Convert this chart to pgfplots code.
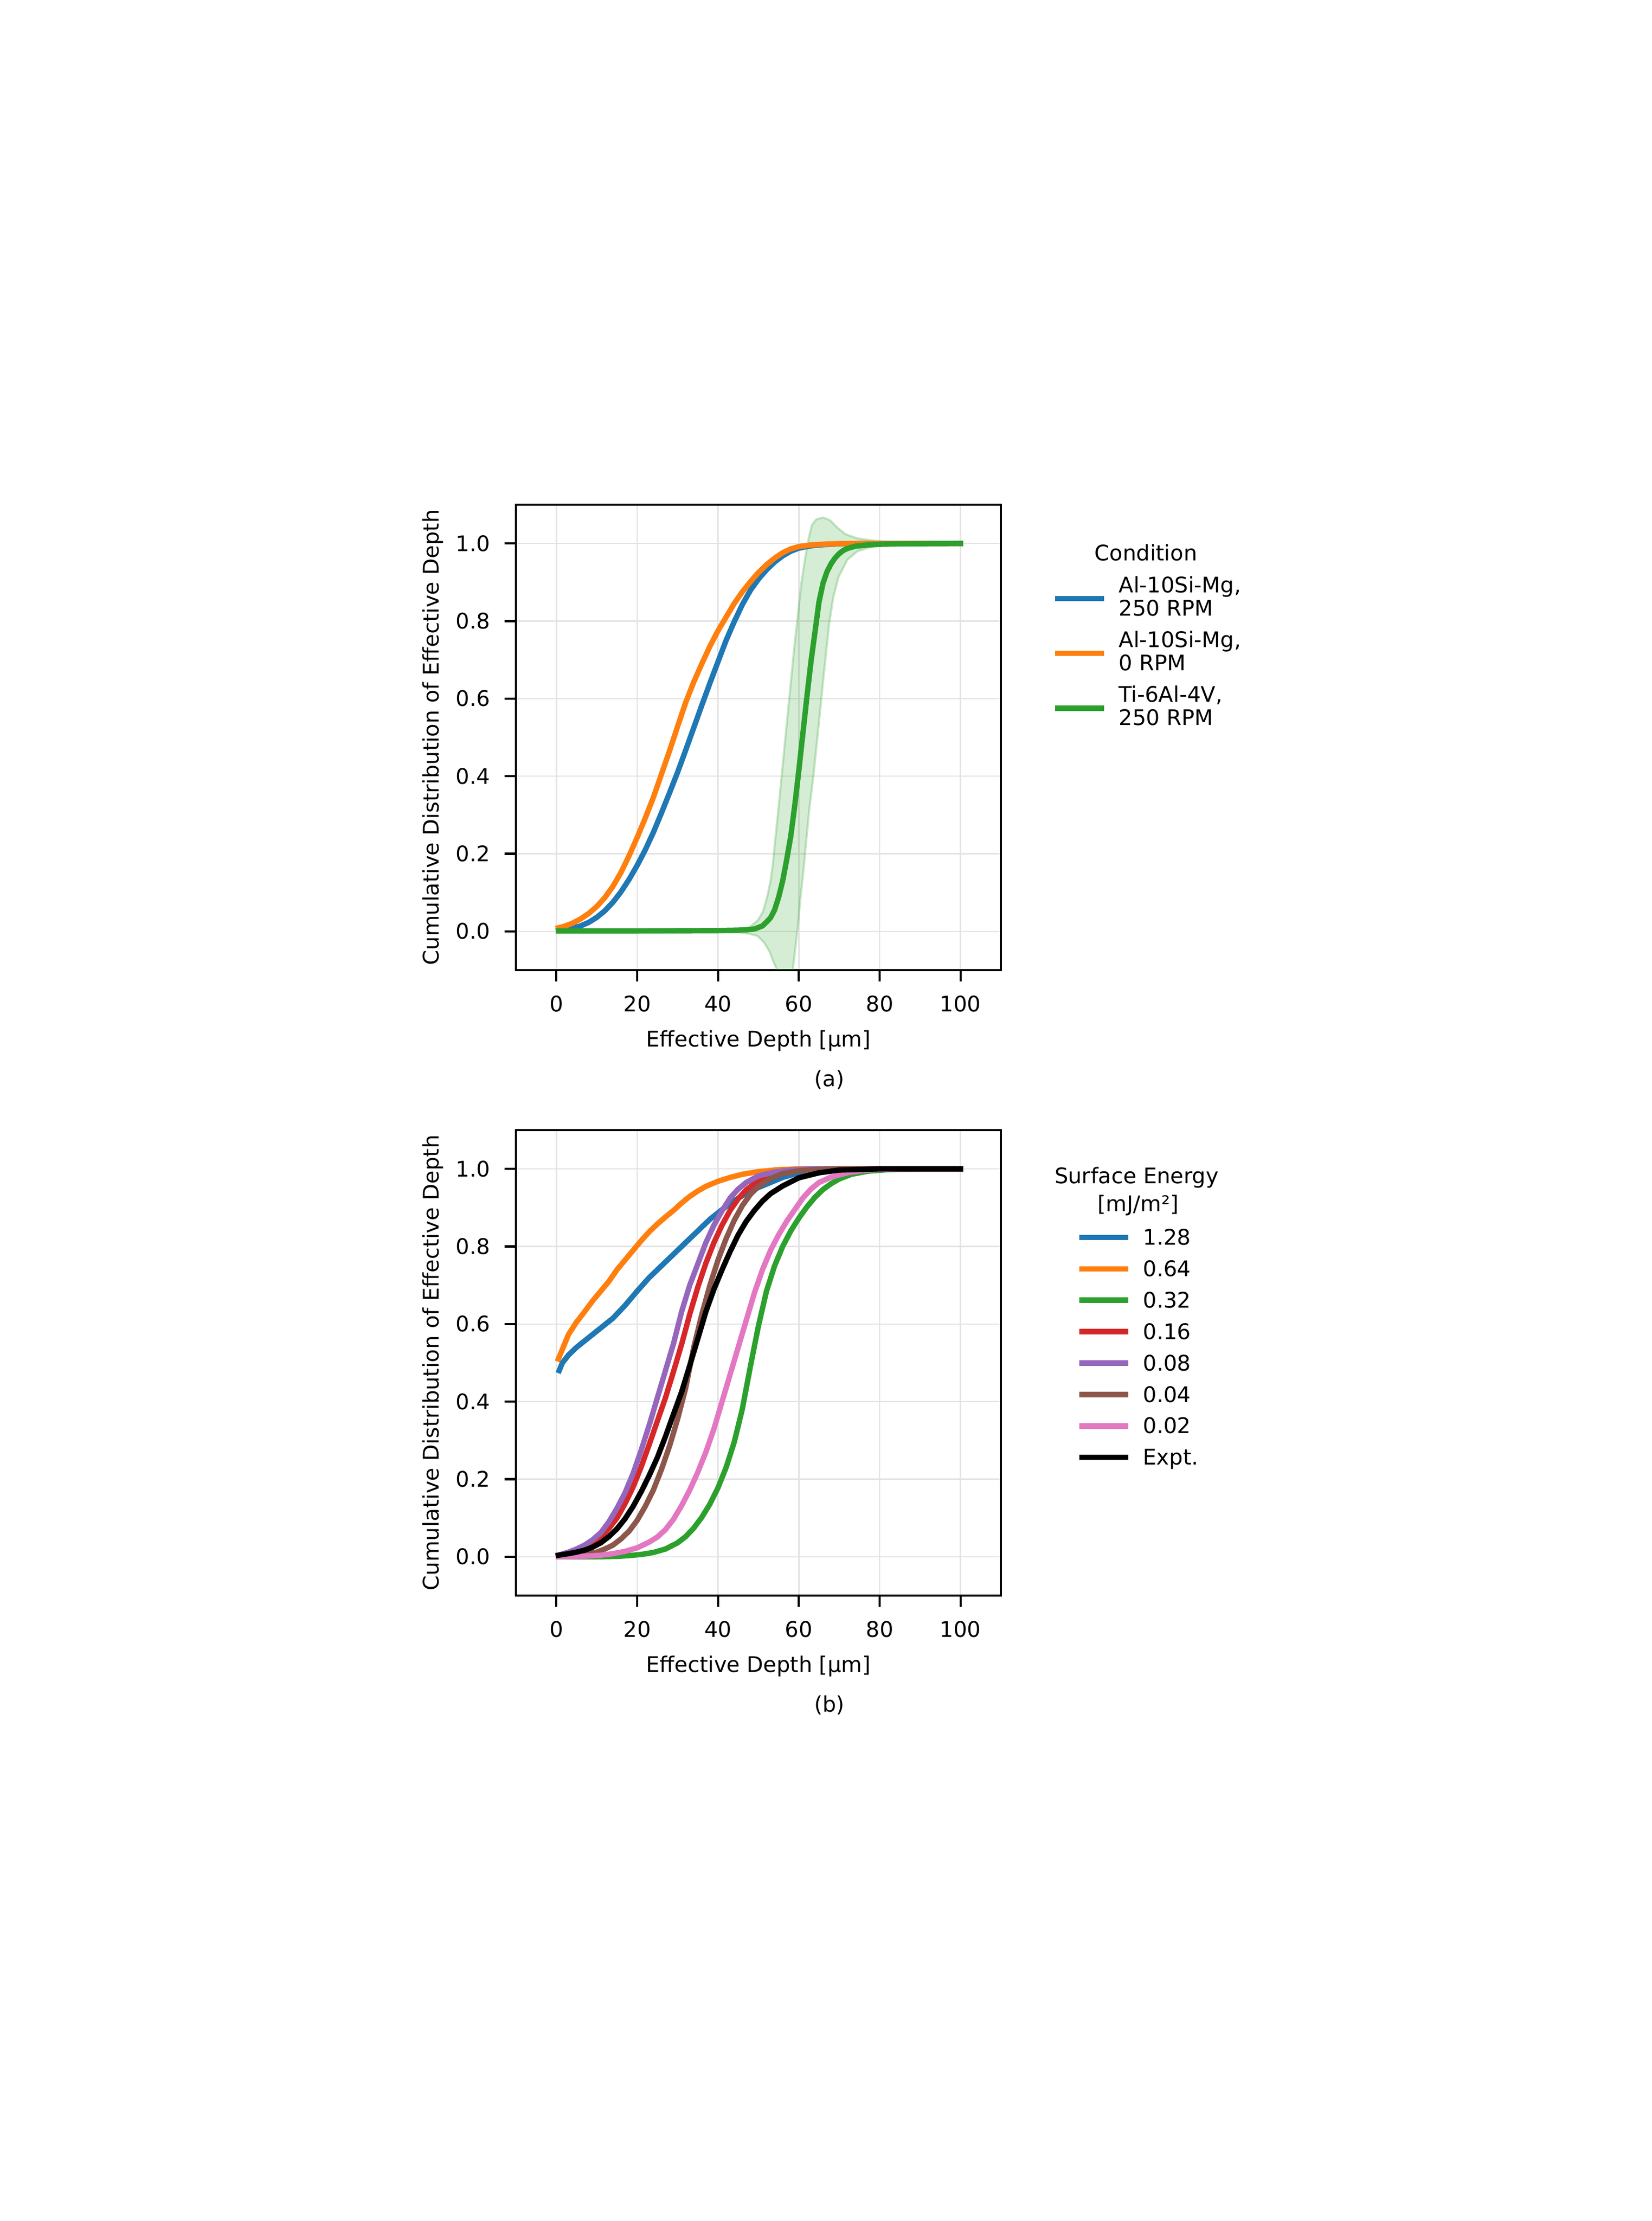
\documentclass[border=0pt]{standalone}
\usepackage{fontspec}
\setmainfont{DejaVu Sans}
\usepackage{pgfplots}
\pgfplotsset{compat=1.18}
\usepgfplotslibrary{fillbetween}
\definecolor{tabblue}{HTML}{1F77B4}
\definecolor{taborange}{HTML}{FF7F0E}
\definecolor{tabgreen}{HTML}{2CA02C}
\definecolor{tabred}{HTML}{D62728}
\definecolor{tabpurple}{HTML}{9467BD}
\definecolor{tabbrown}{HTML}{8C564B}
\definecolor{tabpink}{HTML}{E377C2}
\pgfplotsset{
  cdfaxis/.style={
    scale only axis, width=225.6pt, height=216.48pt,
    anchor=south west,
    xmin=-10, xmax=110, ymin=-0.1, ymax=1.1,
    xtick={0,20,40,60,80,100},
    ytick={0,0.2,0.4,0.6,0.8,1.0},
    tick align=outside, tick pos=left,
    major tick length=5.3pt,
    major tick style={black, line width=1pt},
    axis line style={line width=1pt},
    grid=major,
    major grid style={line width=0.6pt, black!11},
    /pgf/number format/assume math mode=true,
    ticklabel style={font=\fontsize{10}{12}\selectfont},
    xticklabel style={anchor=north, inner sep=0pt, yshift=-6.46pt},
    yticklabel style={anchor=east, inner sep=0pt, xshift=-6.46pt,
       /pgf/number format/fixed, /pgf/number format/fixed zerofill, /pgf/number format/precision=1},
    every axis plot/.append style={line width=2.5pt, line join=round, line cap=rect},
    legend cell align=left,
  },
}
\begin{document}
\begin{tikzpicture}
\path (0,0) rectangle (768.24pt,1032.96pt);

% ---------------- (a) ----------------
\begin{axis}[cdfaxis, at={(240pt,581.76pt)},
  legend style={at={(1.1053,0.8470)}, anchor=north west, draw=none, fill=none,
    inner xsep=0pt, inner ysep=0pt, row sep=6.92pt, column sep=5.6pt,
    font=\fontsize{10}{10.8}\selectfont,
    nodes={inner sep=0pt, text depth={}, align=left}},
  legend image code/.code={\draw[#1, line cap=butt] (0pt,-1.13pt) -- (22.8pt,-1.13pt);},
]
\addplot[name path=gup, draw=tabgreen, draw opacity=0.25, line width=1pt, forget plot] coordinates {
(0.5,0.001) (20,0.001) (40,0.002) (45,0.004) (47.7,0.01) (49.8,0.028) (51.1,0.05) (52.1,0.086) (53,0.13) (53.6,0.175) (54,0.22) (54.8,0.30) (55.6,0.385) (56.4,0.47) (57.2,0.555) (58,0.64) (58.8,0.725) (59.6,0.80) (60,0.838) (60.6,0.896) (61.5,0.958) (62.4,1.011) (63.2,1.047) (64.3,1.062) (66,1.067) (67.7,1.06) (69.4,1.042) (71.5,1.024) (74.5,1.013) (77.9,1.008) (81.4,1.004) (85,1.002) (92,1.0) (100,1.0)};
\addplot[name path=glo, draw=tabgreen, draw opacity=0.25, line width=1pt, forget plot] coordinates {
(0.5,-0.001) (40,-0.002) (45,-0.003) (47.7,-0.006) (49.8,-0.012) (51.5,-0.03) (52.8,-0.053) (53.6,-0.075) (54.5,-0.098) (55.5,-0.13) (56.5,-0.16) (57.3,-0.17) (58,-0.14) (58.5,-0.098) (59.1,-0.048) (59.8,0.019) (60.4,0.086) (61.1,0.152) (61.7,0.219) (62.6,0.315) (63.7,0.41) (64.8,0.52) (66.1,0.655) (67.5,0.793) (68.5,0.86) (69.8,0.913) (72,0.958) (74.5,0.98) (77.9,0.991) (81.4,0.996) (90,1.0) (100,1.0)};
\addplot[fill=tabgreen, fill opacity=0.2, draw=none, forget plot] fill between[of=gup and glo];

\addplot[tabblue] coordinates {
(0.5,0.002) (2,0.004) (4,0.008) (6,0.014) (8,0.023) (10,0.036) (12,0.053) (14,0.075) (16,0.102) (18,0.134) (20,0.17) (22,0.21) (24,0.255) (26,0.305) (28,0.357) (30,0.41) (32,0.467) (34,0.525) (36,0.583) (38,0.64) (40,0.695) (42,0.75) (44,0.798) (46,0.842) (48,0.879) (50,0.908) (52,0.932) (54,0.952) (56,0.968) (58,0.98) (60,0.988) (63,0.994) (66,0.997) (70,0.999) (75,1.0) (100,1.0)};
\addlegendentry{Al-10Si-Mg,\\250 RPM}
\addplot[taborange] coordinates {
(0.5,0.009) (2,0.013) (4,0.021) (6,0.032) (8,0.046) (10,0.064) (12,0.087) (14,0.116) (16,0.152) (18,0.195) (20,0.242) (22,0.292) (24,0.345) (26,0.405) (28,0.465) (30,0.528) (32,0.59) (34,0.643) (36,0.69) (38,0.735) (40,0.775) (42,0.81) (44,0.845) (46,0.875) (48,0.901) (50,0.925) (52,0.945) (54,0.962) (56,0.976) (58,0.986) (60,0.992) (63,0.996) (66,0.998) (70,0.9995) (75,1.0) (100,1.0)};
\addlegendentry{Al-10Si-Mg,\\0 RPM}
\addplot[tabgreen] coordinates {
(0.5,0.001) (10,0.001) (20,0.001) (30,0.0015) (40,0.002) (45,0.003) (47,0.004) (49,0.006) (50,0.01) (51,0.014) (52,0.024) (53,0.035) (54,0.055) (55,0.088) (56,0.13) (57,0.185) (58,0.245) (59,0.325) (60,0.415) (61,0.51) (62,0.605) (63,0.695) (64,0.772) (65,0.85) (66,0.898) (67,0.928) (68,0.948) (69,0.963) (70,0.974) (71,0.982) (72,0.987) (74,0.993) (77,0.996) (80,0.998) (85,0.999) (100,1.0)};
\addlegendentry{Ti-6Al-4V,\\250 RPM}
\end{axis}

% ---------------- (b) ----------------
\begin{axis}[cdfaxis, at={(240pt,290.88pt)},
  legend style={at={(1.1553,0.7894)}, anchor=north west, draw=none, fill=none,
    inner xsep=0pt, inner ysep=0pt, row sep=4.62pt, column sep=5.6pt,
    font=\fontsize{10}{12}\selectfont,
    nodes={inner sep=0pt, text height=7.6pt, text depth=2.4pt}},
  legend image code/.code={\draw[#1, line cap=butt] (0pt,0.9pt) -- (22.8pt,0.9pt);},
]
\addplot[tabblue] coordinates {
(0.7,0.48) (1.5,0.50) (3,0.52) (5,0.54) (8,0.565) (11,0.59) (14,0.615) (17,0.648) (20,0.685) (23,0.72) (26,0.75) (29,0.78) (32,0.81) (35,0.84) (38,0.87) (41,0.895) (44,0.918) (47,0.937) (50,0.952) (53,0.965) (56,0.978) (60,0.99) (65,0.997) (70,1.0) (100,1.0)};
\addlegendentry{1.28}
\addplot[taborange] coordinates {
(0.5,0.51) (1.5,0.535) (3,0.573) (5,0.605) (7,0.632) (9,0.66) (11,0.685) (13,0.71) (15,0.74) (17,0.765) (19,0.79) (21,0.815) (23,0.838) (25,0.858) (27,0.876) (29,0.893) (31,0.912) (33,0.929) (35,0.943) (37,0.955) (40,0.968) (43,0.978) (46,0.986) (50,0.993) (55,0.998) (60,1.0) (100,1.0)};
\addlegendentry{0.64}
\addplot[tabgreen] coordinates {
(0.5,0.0) (10,0.0) (15,0.001) (18,0.003) (21,0.006) (24,0.011) (27,0.02) (30,0.036) (32,0.052) (34,0.074) (36,0.102) (38,0.136) (40,0.178) (42,0.23) (44,0.295) (46,0.38) (48,0.49) (50,0.595) (52,0.685) (54,0.75) (56,0.80) (58,0.84) (60,0.873) (62,0.902) (64,0.927) (66,0.947) (68,0.962) (70,0.974) (73,0.986) (77,0.994) (82,0.998) (90,1.0) (100,1.0)};
\addlegendentry{0.32}
\addplot[tabred] coordinates {
(0.5,0.002) (3,0.008) (5,0.014) (7,0.022) (9,0.033) (11,0.05) (13,0.073) (15,0.1) (17,0.137) (19,0.18) (21,0.232) (23,0.29) (25,0.35) (27,0.41) (29,0.478) (31,0.548) (33,0.625) (35,0.695) (37,0.757) (39,0.81) (41,0.855) (43,0.893) (45,0.923) (47,0.946) (50,0.97) (53,0.984) (57,0.994) (62,0.999) (70,1.0) (100,1.0)};
\addlegendentry{0.16}
\addplot[tabpurple] coordinates {
(0.5,0.004) (3,0.012) (5,0.02) (7,0.03) (9,0.044) (11,0.062) (13,0.09) (15,0.125) (17,0.165) (19,0.215) (21,0.275) (23,0.34) (25,0.41) (27,0.48) (29,0.55) (31,0.632) (33,0.70) (35,0.755) (37,0.81) (39,0.855) (41,0.892) (43,0.925) (45,0.948) (47,0.965) (50,0.982) (54,0.992) (58,0.997) (63,1.0) (100,1.0)};
\addlegendentry{0.08}
\addplot[tabbrown] coordinates {
(0.5,0.001) (4,0.004) (7,0.007) (10,0.012) (12,0.02) (14,0.03) (16,0.046) (18,0.066) (20,0.094) (22,0.13) (24,0.172) (26,0.225) (28,0.285) (30,0.355) (32,0.435) (34,0.54) (36,0.625) (38,0.70) (40,0.765) (42,0.82) (44,0.867) (46,0.905) (48,0.934) (50,0.955) (53,0.975) (56,0.988) (60,0.995) (65,0.999) (70,1.0) (100,1.0)};
\addlegendentry{0.04}
\addplot[tabpink] coordinates {
(0.5,0.0) (5,0.001) (8,0.002) (11,0.004) (14,0.008) (17,0.014) (20,0.023) (23,0.038) (25,0.051) (27,0.07) (29,0.097) (31,0.132) (33,0.172) (35,0.218) (37,0.27) (39,0.33) (41,0.40) (43,0.47) (45,0.54) (47,0.61) (49,0.68) (51,0.74) (53,0.79) (55,0.83) (57,0.865) (59,0.895) (61,0.925) (63,0.948) (65,0.965) (68,0.979) (72,0.99) (76,0.996) (80,0.999) (85,1.0) (100,1.0)};
\addlegendentry{0.02}
\addplot[black] coordinates {
(0.5,0.004) (3,0.008) (5,0.012) (7,0.017) (9,0.025) (11,0.036) (13,0.052) (15,0.072) (17,0.098) (19,0.13) (21,0.168) (23,0.21) (25,0.256) (27,0.31) (29,0.368) (31,0.425) (33,0.493) (35,0.562) (37,0.632) (39,0.69) (41,0.74) (43,0.787) (45,0.83) (47,0.865) (49,0.893) (51,0.917) (53,0.936) (56,0.956) (60,0.977) (65,0.99) (70,0.997) (80,1.0) (100,1.0)};
\addlegendentry{Expt.}
\end{axis}

% ---------------- texts ----------------
\begin{scope}[every node/.style={font=\fontsize{10}{12}\selectfont, inner sep=0pt}]
\node[rotate=90, anchor=base] at (204pt,690pt) {Cumulative Distribution of Effective Depth};
\node[rotate=90, anchor=base] at (204pt,399.12pt) {Cumulative Distribution of Effective Depth};
\node[anchor=base] at (352.8pt,546pt) {Effective Depth [µm]};
\node[anchor=base] at (352.8pt,255.12pt) {Effective Depth [µm]};
\node[anchor=base] at (385.8pt,527.52pt) {(a)};
\node[anchor=base] at (385.8pt,236.64pt) {(b)};
\node[anchor=base] at (533.04pt,772.08pt) {Condition};
\node[anchor=base] at (528.72pt,482.4pt) {Surface Energy};
\node[anchor=base] at (529.44pt,469.44pt) {[mJ/m²]};
\end{scope}
\end{tikzpicture}
\end{document}
